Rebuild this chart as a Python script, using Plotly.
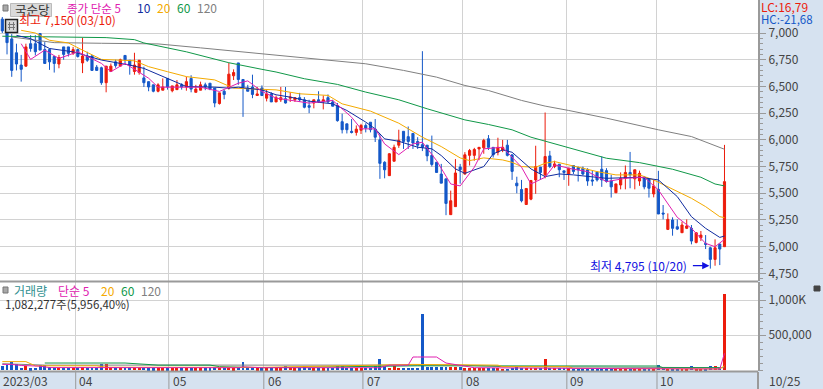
import plotly.graph_objects as go

W, H = 823, 389

# ---- values: one row per trading day (open, high, low, close) ----
candles = [
(7130,7150,7000,7020),(7040,7060,6800,6910),(6945,6990,6590,6650),(6815,6900,6650,6710),(6700,6795,6545,6660),
(6690,6900,6685,6870),(6900,6980,6825,6855),(6900,6980,6790,6825),(6995,7000,6840,6840),(6845,6915,6715,6715),
(6845,6855,6655,6730),(6780,6780,6630,6715),(6710,6795,6670,6770),(6870,6870,6750,6800),(6870,6870,6780,6810),
(6810,6870,6795,6845),(6845,6855,6770,6780),(6720,6955,6625,6785),(6785,6825,6730,6745),(6785,6795,6650,6650),
(6680,6700,6650,6650),(6675,6685,6515,6535),(6535,6690,6445,6690),(6640,6715,6640,6690),(6730,6750,6675,6695),
(6690,6760,6690,6750),(6790,6790,6715,6750),(6745,6745,6610,6695),(6640,6815,6610,6700),(6630,6745,6610,6745),
(6580,6685,6495,6535),(6545,6545,6455,6495),(6515,6515,6445,6455),(6455,6530,6445,6515),(6465,6575,6465,6495),
(6575,6575,6470,6495),(6460,6505,6445,6505),(6470,6560,6470,6515),(6515,6530,6470,6495),(6495,6590,6460,6545),
(6575,6605,6445,6475),(6445,6515,6445,6475),(6465,6545,6465,6515),(6515,6535,6465,6495),(6530,6530,6465,6475),
(6485,6485,6305,6345),(6340,6440,6330,6440),(6455,6470,6380,6425),(6485,6720,6470,6615),(6600,6660,6560,6630),
(6720,6720,6515,6565),(6565,6565,6215,6495),(6485,6515,6455,6455),(6495,6610,6390,6425),(6415,6495,6415,6430),
(6485,6510,6410,6415),(6390,6470,6360,6430),(6430,6445,6355,6355),(6355,6415,6355,6395),(6375,6495,6355,6395),
(6385,6495,6340,6345),(6390,6445,6355,6400),(6375,6400,6355,6395),(6395,6440,6355,6375),(6375,6400,6295,6305),
(6320,6375,6250,6305),(6345,6375,6295,6375),(6375,6455,6345,6355),(6360,6415,6285,6375),(6395,6425,6345,6355),
(6355,6375,6315,6315),(6320,6345,6170,6180),(6170,6245,6060,6095),(6150,6150,6060,6095),(6080,6195,6060,6070),
(6070,6135,6040,6100),(6090,6150,6055,6135),(6135,6155,6070,6110),(6165,6165,6070,6095),(6100,6195,5980,6025),
(6000,6055,5635,5780),(5790,5800,5640,5720),(5665,5875,5665,5870),(5800,5955,5800,5930),(5950,6095,5925,5995),
(6080,6080,5915,5985),(6030,6125,5915,5985),(6060,6060,5915,5970),(5985,6025,5915,5950),(5955,6830,5895,5930),
(5950,5950,5800,5850),(5855,6040,5750,5770),(5790,5790,5695,5695),(5680,5775,5595,5595),(5635,5635,5295,5405),
(5300,5525,5300,5430),(5375,5820,5375,5690),(5745,5775,5590,5720),(5680,5885,5675,5860),(5855,5915,5760,5900),
(5855,5925,5805,5910),(5915,5930,5810,5930),(5925,6010,5870,5995),(6010,6045,5905,5930),(5930,5930,5835,5860),
(5885,6020,5855,5930),(5905,6000,5885,5930),(5950,6000,5845,5855),(5860,5860,5625,5705),(5595,5655,5500,5570),
(5535,5625,5415,5430),(5395,5545,5395,5545),(5445,5620,5435,5620),(5625,5945,5495,5750),(5745,5745,5625,5695),
(5672,6256,5640,5844),(5850,5897,5735,5750),(5750,5805,5735,5775),(5772,5772,5650,5720),(5710,5710,5625,5695),
(5680,5735,5570,5735),(5760,5760,5680,5705),(5740,5750,5610,5720),(5735,5750,5670,5680),(5720,5735,5570,5615),
(5625,5710,5570,5615),(5697,5705,5610,5625),(5725,5845,5560,5625),(5712,5735,5600,5610),(5615,5672,5460,5560),
(5505,5588,5505,5588),(5578,5695,5537,5640),(5640,5760,5537,5695),(5695,5887,5547,5672),(5635,5720,5537,5720),
(5615,5712,5570,5687),(5650,5662,5537,5560),(5635,5635,5460,5547),(5494,5625,5462,5569),(5537,5710,5306,5306),
(5315,5390,5256,5306),(5162,5312,5156,5256),(5250,5275,5103,5172),(5187,5256,5156,5165),(5131,5234,5131,5203),
(5172,5256,5165,5194),(5172,5203,5022,5053),(5040,5131,5031,5131),(5084,5147,5053,5109),(5031,5109,4978,5022),
(4990,5000,4795,4881),(4881,5069,4822,4990),(5025,5025,4828,4978),(5000,5953,5000,5609),
]
day = list(range(len(candles)))
opens = [c[0] for c in candles]
highs = [c[1] for c in candles]
lows = [c[2] for c in candles]
closes = [c[3] for c in candles]

volumes = [
60000,70000,110000,80000,33000,62000,25000,33000,70000,70000,40000,35000,35000,33000,30000,
33000,33000,38000,33000,30000,33000,80000,80000,35000,30000,30000,35000,38000,33000,33000,
33000,28000,28000,28000,25000,28000,25000,25000,25000,28000,25000,22000,25000,25000,28000,
40000,30000,33000,35000,28000,40000,114000,50000,33000,28000,28000,25000,25000,25000,28000,
60000,30000,28000,25000,60000,30000,25000,25000,28000,28000,30000,60000,60000,30000,25000,
25000,28000,30000,33000,60000,157000,60000,30000,60000,33000,30000,33000,30000,33000,800000,
48000,48000,48000,48000,48000,48000,38000,38000,25000,25000,22000,22000,22000,22000,22000,
22000,20000,20000,33000,38000,33000,33000,33000,30000,33000,157000,33000,33000,33000,30000,
25000,20000,20000,20000,22000,20000,20000,20000,18000,20000,20000,20000,20000,20000,20000,
20000,20000,18000,18000,70000,35000,20000,20000,20000,20000,20000,57000,20000,20000,20000,
57000,57000,33000,1082277,
][:len(candles)]

ma5_day = [4,6,9,12,16,21,23,26,31,33,37,42,46,50,52,55,58,59,65,70,74,76,79,81,84,87,89,92,95,97,100,102,106,110,112,115,117,121,124,128,132,136,139,143,146,149,151,153]
ma5_val = [6900,6753,6840,6762,6824,6716,6638,6716,6577,6493,6493,6493,6453,6530,6552,6453,6391,6384,6344,6369,6212,6103,6103,5962,5862,5962,5978,5806,5587,5569,5744,5916,5931,5744,5587,5650,5766,5725,5703,5609,5640,5650,5531,5275,5172,5031,5000,5069]
ma10_day = [3,6,10,15,21,27,30,35,39,45,48,50,55,58,61,65,70,73,77,79,81,84,88,91,93,96,98,102,104,106,108,112,115,118,121,128,135,139,143,146,149,152,153]
ma10_val = [6978,6947,6855,6824,6747,6700,6669,6577,6499,6493,6484,6493,6468,6422,6400,6362,6337,6275,6166,6103,6009,5987,5931,5916,5853,5728,5687,5750,5869,5906,5884,5728,5656,5681,5672,5640,5650,5625,5469,5281,5172,5087,5100]
ma20_day = [4,7,10,14,17,21,28,31,35,39,45,49,58,63,69,72,78,84,89,93,97,99,102,106,108,110,113,115,117,121,126,130,135,138,142,146,149,152,153]
ma20_val = [7025,7000,6932,6907,6840,6753,6740,6685,6638,6592,6561,6484,6468,6431,6416,6337,6269,6156,6025,5937,5831,5806,5831,5812,5790,5750,5744,5781,5797,5756,5703,5672,5672,5625,5537,5453,5375,5281,5272]
ma60_day = [0,14,22,28,30,39,48,55,58,64,71,77,84,90,98,103,108,112,115,121,128,135,142,148,151,153]
ma60_val = [6970,6963,6957,6938,6907,6824,6722,6660,6635,6572,6519,6447,6375,6291,6187,6144,6094,6025,5987,5912,5828,5787,5725,5650,5587,5569]
ma120_day = [2,6,11,21,33,42,49,57,64,71,77,85,92,98,103,110,115,120,128,139,146,153]
ma120_val = [6963,6938,6910,6904,6898,6861,6830,6797,6769,6737,6712,6650,6587,6509,6462,6369,6316,6275,6203,6094,6031,5912]

vol_ma5_day = [0,2,4,6,8,10,50,51,55,80,82,86,87,88,90,92,94,100,130,150,152,153]
vol_ma5_val = [80000,80000,65000,60000,55000,35000,33000,45000,33000,33000,70000,70000,186000,186000,186000,186000,100000,33000,20000,15000,15000,238000]
vol_ma20_day = [0,5,7,20,22,36,55,87,97,105,106,120,121,139,152,153]
vol_ma20_val = [120000,120000,60000,60000,40000,40000,38000,80000,80000,70000,48000,48000,24000,24000,15000,60000]
vol_ma60_day = [9,26,33,44,46,55,88,97,106,139,140,152]
vol_ma60_val = [100000,100000,70000,70000,48000,33000,60000,60000,57000,57000,33000,33000]
vol_ma120_day = [0,9,26,86,97,106,139,153]
vol_ma120_val = [90000,70000,70000,70000,70000,48000,40000,33000]

price_ticks = [7000,6750,6500,6250,6000,5750,5500,5250,5000,4750]
volume_ticks = [1000000,500000]
volume_tick_text = ["1,000K","500,000"]
month_days = [15.55,35.3,55.4,76.4,97.4,119.6,138.7]
month_labels = ["04","05","06","07","08","09","10"]
first_label = "2023/03"
last_label = "10/25"
ma_periods = ["5","10","20","60","120"]
vol_periods = ["5","20","60","120"]

UP, DOWN = "#EC1C0C", "#1458C8"
MAGENTA, NAVY, ORANGE, GREEN, GRAY = "#E020B0", "#102CA0", "#F4AA00", "#109848", "#808080"
BAND = "#D6E2F0"
GRID = "#D2D2D2"
EDGE = "#9A9A9A"
FONT = "Noto Sans CJK KR"

fig = go.Figure()
fig.add_trace(go.Candlestick(
    x=day, open=opens, high=highs, low=lows, close=closes,
    increasing=dict(line=dict(color=UP, width=1), fillcolor=UP),
    decreasing=dict(line=dict(color=DOWN, width=1), fillcolor=DOWN),
    whiskerwidth=0, hoverinfo="skip", xaxis="x", yaxis="y", showlegend=False))

for xs, ys, c in [(ma120_day, ma120_val, GRAY), (ma60_day, ma60_val, GREEN), (ma20_day, ma20_val, ORANGE),
                  (ma10_day, ma10_val, NAVY), (ma5_day, ma5_val, MAGENTA)]:
    fig.add_trace(go.Scatter(x=xs, y=ys, mode="lines", line=dict(color=c, width=1),
                             hoverinfo="skip", showlegend=False, xaxis="x", yaxis="y"))

fig.add_trace(go.Bar(x=day, y=volumes, width=0.62,
                     marker=dict(color=[UP if c >= o else DOWN for o, c in zip(opens, closes)], line_width=0),
                     hoverinfo="skip", showlegend=False, xaxis="x2", yaxis="y2"))
for xs, ys, c in [(vol_ma120_day, vol_ma120_val, GRAY), (vol_ma60_day, vol_ma60_val, GREEN),
                  (vol_ma20_day, vol_ma20_val, ORANGE), (vol_ma5_day, vol_ma5_val, MAGENTA)]:
    fig.add_trace(go.Scatter(x=xs, y=ys, mode="lines", line=dict(color=c, width=1, shape="linear"),
                             hoverinfo="skip", showlegend=False, xaxis="x2", yaxis="y2"))

def px(x): return x / W
def py(y): return 1 - y / H

xrange_ = [-0.487, 160.1]
xaxis_common = dict(range=xrange_, tickmode="array", tickvals=month_days, ticktext=[""] * len(month_days),
                    showgrid=True, gridcolor=GRID, gridwidth=1, zeroline=False, showline=False,
                    ticks="", showticklabels=False, rangeslider=dict(visible=False), fixedrange=True)
yfont = dict(family=FONT, size=12, color="#444444")

fig.update_layout(
    width=W, height=H, autosize=False, margin=dict(l=0, r=0, t=0, b=0),
    paper_bgcolor=BAND, plot_bgcolor="white", boxgap=0.35, bargap=0, showlegend=False,
    xaxis=dict(domain=[0, px(758)], anchor="y", **xaxis_common),
    xaxis2=dict(domain=[0, px(758)], anchor="y2", **xaxis_common),
    yaxis=dict(domain=[py(281), 1], range=[4679, 7309], side="right", anchor="x",
               tickmode="array", tickvals=price_ticks, tickformat=",d", tickfont=yfont,
               showgrid=True, gridcolor=GRID, gridwidth=1, zeroline=False,
               showline=True, linecolor=EDGE, linewidth=2, ticks="outside", ticklen=6, tickcolor=EDGE,
               minor=dict(tickmode="array", tickvals=list(range(4700, 7050, 50)), ticks="outside", ticklen=3, tickcolor=EDGE, showgrid=False),
               fixedrange=True),
    yaxis2=dict(domain=[py(371), py(282)], range=[-14000, 1257000], side="right", anchor="x2",
                tickmode="array", tickvals=volume_ticks, ticktext=volume_tick_text, tickfont=yfont,
                showgrid=True, gridcolor=GRID, gridwidth=1, zeroline=False,
                showline=True, linecolor=EDGE, linewidth=2, ticks="outside", ticklen=6, tickcolor=EDGE,
                minor=dict(tickmode="array", tickvals=list(range(0, 1300000, 100000)), ticks="outside", ticklen=3, tickcolor=EDGE, showgrid=False),
                fixedrange=True),
)

def label(text, x, y, color, size=12, **kw):
    fig.add_annotation(text=text, x=px(x - 2), y=py(y), xref="paper", yref="paper", xanchor="left",
                       yanchor="middle", showarrow=False, align="left",
                       font=dict(family=FONT, size=size, color=color), **kw)

def rect(x0, y0, x1, y1, fill, line=None, lw=1):
    fig.add_shape(type="rect", xref="paper", yref="paper", x0=px(x0), x1=px(x1), y0=py(y0), y1=py(y1),
                  fillcolor=fill, line=dict(color=line or fill, width=lw), layer="above")

rect(10.5, 3.5, 51.5, 16.5, "#DADADA", "#BBBBBB")
label("국순당", 15, 9, "#333333", size=12.5)
label("종가 단순 " + ma_periods[0], 67, 8, MAGENTA, size=11.5)
label(ma_periods[1], 137, 8, NAVY)
label(ma_periods[2], 157, 8, ORANGE)
label(ma_periods[3], 177, 8, GREEN)
label(ma_periods[4], 197, 8, GRAY)
label("최고 7,150 (03/10)", 19, 20, UP)
label("거래량", 14, 290, "#309090")
label("단순 " + vol_periods[0], 58, 290, MAGENTA)
label(vol_periods[1], 101, 290, ORANGE)
label(vol_periods[2], 121, 290, GREEN)
label(vol_periods[3], 141, 290, GRAY)
label("1,082,277주(5,956,40%)", 5, 304, "#333333", size=11.5)
label("최저 4,795 (10/20)", 590, 265, "#1010E0")
label("LC:16,79", 761, 7, UP)
label("HC:-21,68", 761, 19, DOWN, size=11.5)

label(first_label, 3, 380, "#444444")
for d, t, x in zip(month_days, month_labels, [79, 173, 268, 367, 466, 570, 660]):
    label(t, x, 380, "#444444")
label(last_label, 769, 380, "#444444")

fig.add_annotation(x=149.8, y=4822, xref="x", yref="y", ax=-18, ay=0, axref="pixel", ayref="pixel",
                   text="", showarrow=True, arrowhead=2, arrowsize=1.2, arrowwidth=1.2, arrowcolor="#1010E0")

def hline(y, x0=0, x1=758, color=EDGE, lw=2):
    fig.add_shape(type="line", xref="paper", yref="paper", x0=px(x0), x1=px(x1), y0=py(y), y1=py(y),
                  line=dict(color=color, width=lw), layer="above")

# pane separators
hline(281.5)
hline(371.5)
# month ticks through the date band
for d in month_days:
    fig.add_shape(type="line", xref="x", yref="paper", x0=d, x1=d, y0=0, y1=py(372),
                  line=dict(color=EDGE, width=1), layer="above")
fig.add_shape(type="line", xref="paper", yref="paper", x0=px(758), x1=px(758), y0=0, y1=py(372),
              line=dict(color=EDGE, width=2), layer="above")

# small gray squares and the table icon
rect(3, 5, 8, 11, "#A8A8A8", "#777777")
rect(3, 287, 8, 293, "#A8A8A8", "#777777")
rect(5.5, 19.5, 17.5, 32.5, "#D8D8D8", "#222222", 1.5)
for gx in (9.5, 13.5):
    fig.add_shape(type="line", xref="paper", yref="paper", x0=px(gx), x1=px(gx), y0=py(22), y1=py(30),
                  line=dict(color="#777777", width=1), layer="above")
for gy in (24.5, 27.5):
    fig.add_shape(type="line", xref="paper", yref="paper", x0=px(8), x1=px(15), y0=py(gy), y1=py(gy),
                  line=dict(color="#777777", width=1), layer="above")
# expand icon
rect(814, 286, 820, 291, "#444444")

fig.write_html("out.html", config={"displayModeBar": False},
               post_script="document.documentElement.style.margin='0';document.body.style.margin='0';")
